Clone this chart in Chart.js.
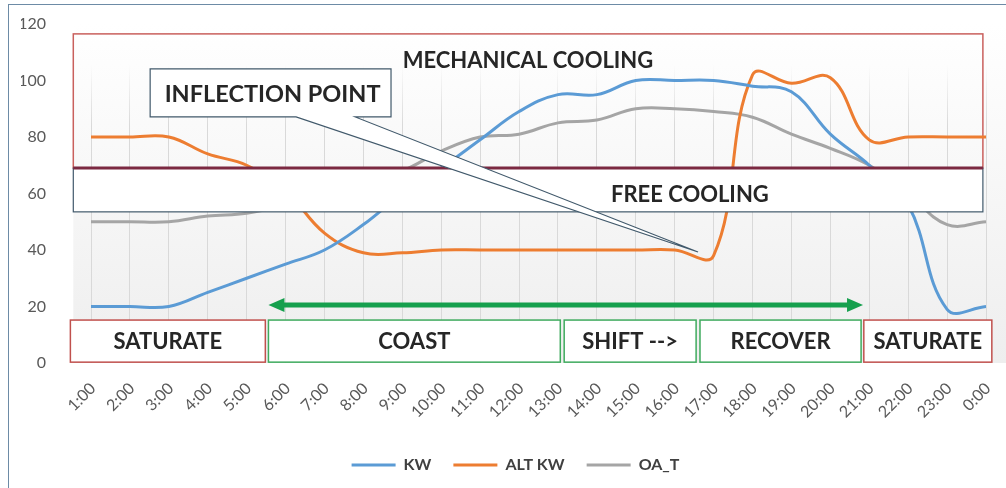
<!DOCTYPE html>
<html>
<head>
<meta charset="utf-8">
<script src="https://cdn.jsdelivr.net/npm/chart.js@4/dist/chart.umd.min.js"></script>
<style>
  html, body { margin: 0; padding: 0; background: #fff; }
</style>
</head>
<body>
<canvas id="coolingChart" width="1006" height="488"></canvas>
<script>
const hours = ['1:00', '2:00', '3:00', '4:00', '5:00', '6:00', '7:00', '8:00', '9:00', '10:00', '11:00', '12:00',
    '13:00', '14:00', '15:00', '16:00', '17:00', '18:00', '19:00', '20:00', '21:00', '22:00', '23:00', '0:00'];
const kw    = [20, 20, 20, 25, 30, 35, 40, 49, 60, 69, 79, 89, 95, 95, 100, 100, 100, 98, 96, 81, 70, 56, 19, 20];
const altKw = [80, 80, 80, 74, 70, 61, 46, 39, 39, 40, 40, 40, 40, 40, 40, 40, 38, 102, 99, 101, 79, 80, 80, 80];
const oaT   = [50, 50, 50, 52, 53, 56, 60, 64, 68, 75, 80, 81, 85, 86, 90, 90, 89, 87, 81, 76, 70, 60, 49, 50];

// annotation regions, in (hour index, value) units
const zoneX = [-0.455, 22.92];
const mechY = [69, 116.5];
const freeY = [53.5, 69];
const phaseY = [0.3, 15.2];
const phaseNames = ['SATURATE', 'COAST', 'SHIFT -->', 'RECOVER', 'SATURATE'];
const phaseFrom  = [-0.53, 4.56, 12.16, 15.65, 19.86];
const phaseTo    = [4.48, 12.06, 15.55, 19.79, 23.15];
const phaseColor = ['#c0504d', '#3fab5e', '#3fab5e', '#3fab5e', '#c0504d'];
const arrowSpan = [4.56, 19.84, 20.5];
const callout = {box: [1.52, 7.71, 104.1, 87.1], base: [5.27, 6.79], tip: [15.6, 39.3]};

const FONT = 'Lato, "Open Sans", sans-serif';

function boldText(ctx, text, x, y, size) {
    ctx.font = 'bold ' + size + 'px ' + FONT;
    ctx.fillStyle = '#262626';
    ctx.textAlign = 'center';
    ctx.textBaseline = 'middle';
    ctx.fillText(text, x, y);
}

const coolingAnnotations = {
    id: 'coolingAnnotations',
    afterLayout(chart) {
        // legend sits a little right of the canvas centre in the original
        chart.legend.left += 12;
        chart.legend.right += 12;
    },
    beforeDraw(chart) {
        const ctx = chart.ctx, a = chart.chartArea;
        const px = v => chart.scales.x.getPixelForValue(v);
        ctx.save();
        ctx.fillStyle = '#fff';
        ctx.fillRect(0, 0, chart.width, chart.height);
        const g = ctx.createLinearGradient(0, a.top, 0, a.bottom);
        g.addColorStop(0, '#ffffff');
        g.addColorStop(1, '#eeeeee');
        ctx.fillStyle = g;
        ctx.fillRect(px(zoneX[0]), a.top, chart.width - px(zoneX[0]), a.bottom - a.top);
        ctx.strokeStyle = '#6d8ba6';
        ctx.lineWidth = 1;
        ctx.strokeRect(8.5, 4.5, chart.width + 10, chart.height + 10);
        ctx.restore();
    },
    beforeDatasetsDraw(chart) {
        const ctx = chart.ctx;
        const px = v => chart.scales.x.getPixelForValue(v);
        const py = v => chart.scales.y.getPixelForValue(v);
        ctx.save();
        ctx.strokeStyle = '#c9605d';
        ctx.lineWidth = 1.5;
        ctx.strokeRect(px(zoneX[0]), py(mechY[1]), px(zoneX[1]) - px(zoneX[0]), py(mechY[0]) - py(mechY[1]));
        ctx.restore();
    },
    afterDatasetsDraw(chart) {
        const ctx = chart.ctx;
        const px = v => chart.scales.x.getPixelForValue(v);
        const py = v => chart.scales.y.getPixelForValue(v);
        const x0 = px(zoneX[0]), x1 = px(zoneX[1]);
        ctx.save();

        // free cooling band
        ctx.fillStyle = '#fff';
        ctx.fillRect(x0, py(freeY[1]), x1 - x0, py(freeY[0]) - py(freeY[1]));
        ctx.strokeStyle = '#41596b';
        ctx.lineWidth = 1.2;
        ctx.strokeRect(x0, py(freeY[1]), x1 - x0, py(freeY[0]) - py(freeY[1]));
        ctx.strokeStyle = '#7b2941';
        ctx.lineWidth = 3;
        ctx.beginPath();
        ctx.moveTo(x0, py(mechY[0]));
        ctx.lineTo(x1, py(mechY[0]));
        ctx.stroke();
        boldText(ctx, 'FREE COOLING', px(15.39), py(59.5), 22);
        boldText(ctx, 'MECHANICAL COOLING', px(11.23), py(107), 22);

        // inflection point callout
        const [bx0, bx1, by0, by1] = callout.box;
        ctx.beginPath();
        ctx.moveTo(px(bx0), py(by0));
        ctx.lineTo(px(bx1), py(by0));
        ctx.lineTo(px(bx1), py(by1));
        ctx.lineTo(px(callout.base[1]), py(by1));
        ctx.lineTo(px(callout.tip[0]), py(callout.tip[1]));
        ctx.lineTo(px(callout.base[0]), py(by1));
        ctx.lineTo(px(bx0), py(by1));
        ctx.closePath();
        ctx.fillStyle = '#fff';
        ctx.fill();
        ctx.strokeStyle = '#41596b';
        ctx.lineWidth = 1.2;
        ctx.stroke();
        boldText(ctx, 'INFLECTION POINT', (px(bx0) + px(bx1)) / 2 + 2, (py(by0) + py(by1)) / 2 + 1, 23.5);

        // green double arrow
        const ay = py(arrowSpan[2]), ax0 = px(arrowSpan[0]), ax1 = px(arrowSpan[1]);
        ctx.strokeStyle = ctx.fillStyle = '#16a04e';
        ctx.lineWidth = 5;
        ctx.beginPath();
        ctx.moveTo(ax0 + 12, ay);
        ctx.lineTo(ax1 - 12, ay);
        ctx.stroke();
        ctx.beginPath();
        ctx.moveTo(ax0, ay);
        ctx.lineTo(ax0 + 16, ay - 7);
        ctx.lineTo(ax0 + 16, ay + 7);
        ctx.closePath();
        ctx.moveTo(ax1, ay);
        ctx.lineTo(ax1 - 16, ay - 7);
        ctx.lineTo(ax1 - 16, ay + 7);
        ctx.closePath();
        ctx.fill();

        // phase boxes
        phaseNames.forEach((name, i) => {
            const l = px(phaseFrom[i]), r = px(phaseTo[i]);
            const t = py(phaseY[1]), b = py(phaseY[0]);
            ctx.fillStyle = '#fff';
            ctx.fillRect(l, t, r - l, b - t);
            ctx.strokeStyle = phaseColor[i];
            ctx.lineWidth = 1.5;
            ctx.strokeRect(l, t, r - l, b - t);
            boldText(ctx, name, (l + r) / 2, (t + b) / 2 + 1, 22);
        });
        ctx.restore();
    }
};

const ctx = document.getElementById('coolingChart').getContext('2d');

new Chart(ctx, {
    type: 'line',
    data: {
        labels: hours,
        datasets: [
            {label: 'KW', data: kw, borderColor: '#5b9bd5', backgroundColor: '#5b9bd5'},
            {label: 'ALT KW', data: altKw, borderColor: '#ed7d31', backgroundColor: '#ed7d31'},
            {label: 'OA_T', data: oaT, borderColor: '#a5a5a5', backgroundColor: '#a5a5a5'},
        ],
    },
    options: {
        responsive: false,
        devicePixelRatio: 1,
        animation: false,
        elements: {
            line: {borderWidth: 3, tension: 0.4},
            point: {radius: 0},
        },
        layout: {padding: {left: 21, right: 20, top: 24, bottom: 5}},
        scales: {
            x: {
                offset: false,
                border: {display: false},
                grid: {
                    offset: false,
                    drawTicks: false,
                    color: c => {
                        const a = c.chart.chartArea;
                        if (!a) return '#d9d9d9';
                        const g = c.chart.ctx.createLinearGradient(0, a.top, 0, a.bottom);
                        g.addColorStop(0, 'rgba(217,217,217,0)');
                        g.addColorStop(0.12, 'rgba(217,217,217,0)');
                        g.addColorStop(0.3, '#d9d9d9');
                        g.addColorStop(1, '#d9d9d9');
                        return g;
                    },
                },
                ticks: {
                    autoSkip: false,
                    minRotation: 45,
                    maxRotation: 45,
                    padding: 16,
                    labelOffset: 2,
                    color: '#595959',
                    font: {family: FONT, size: 16},
                },
                afterFit: s => {
                    s.height = 72;
                    s.paddingLeft = 0;
                    s.paddingRight = 0;
                },
            },
            y: {
                min: 0,
                max: 120,
                border: {display: false},
                grid: {display: false, drawTicks: false},
                ticks: {
                    stepSize: 20,
                    padding: 45,
                    color: '#595959',
                    font: {family: FONT, size: 16},
                },
                afterFit: s => {
                    s.width = 70;
                    s.paddingTop = 10;
                    s.paddingBottom = 10;
                },
            },
        },
        plugins: {
            tooltip: {enabled: false},
            legend: {
                position: 'bottom',
                labels: {
                    boxWidth: 44,
                    boxHeight: 3,
                    padding: 22,
                    color: '#404040',
                    font: {family: FONT, size: 16, weight: 'bold'},
                    generateLabels: chart => Chart.defaults.plugins.legend.labels.generateLabels(chart)
                        .map(item => ({...item, lineWidth: 0})),
                },
            },
        },
    },
    plugins: [coolingAnnotations],
});
</script>
</body>
</html>
